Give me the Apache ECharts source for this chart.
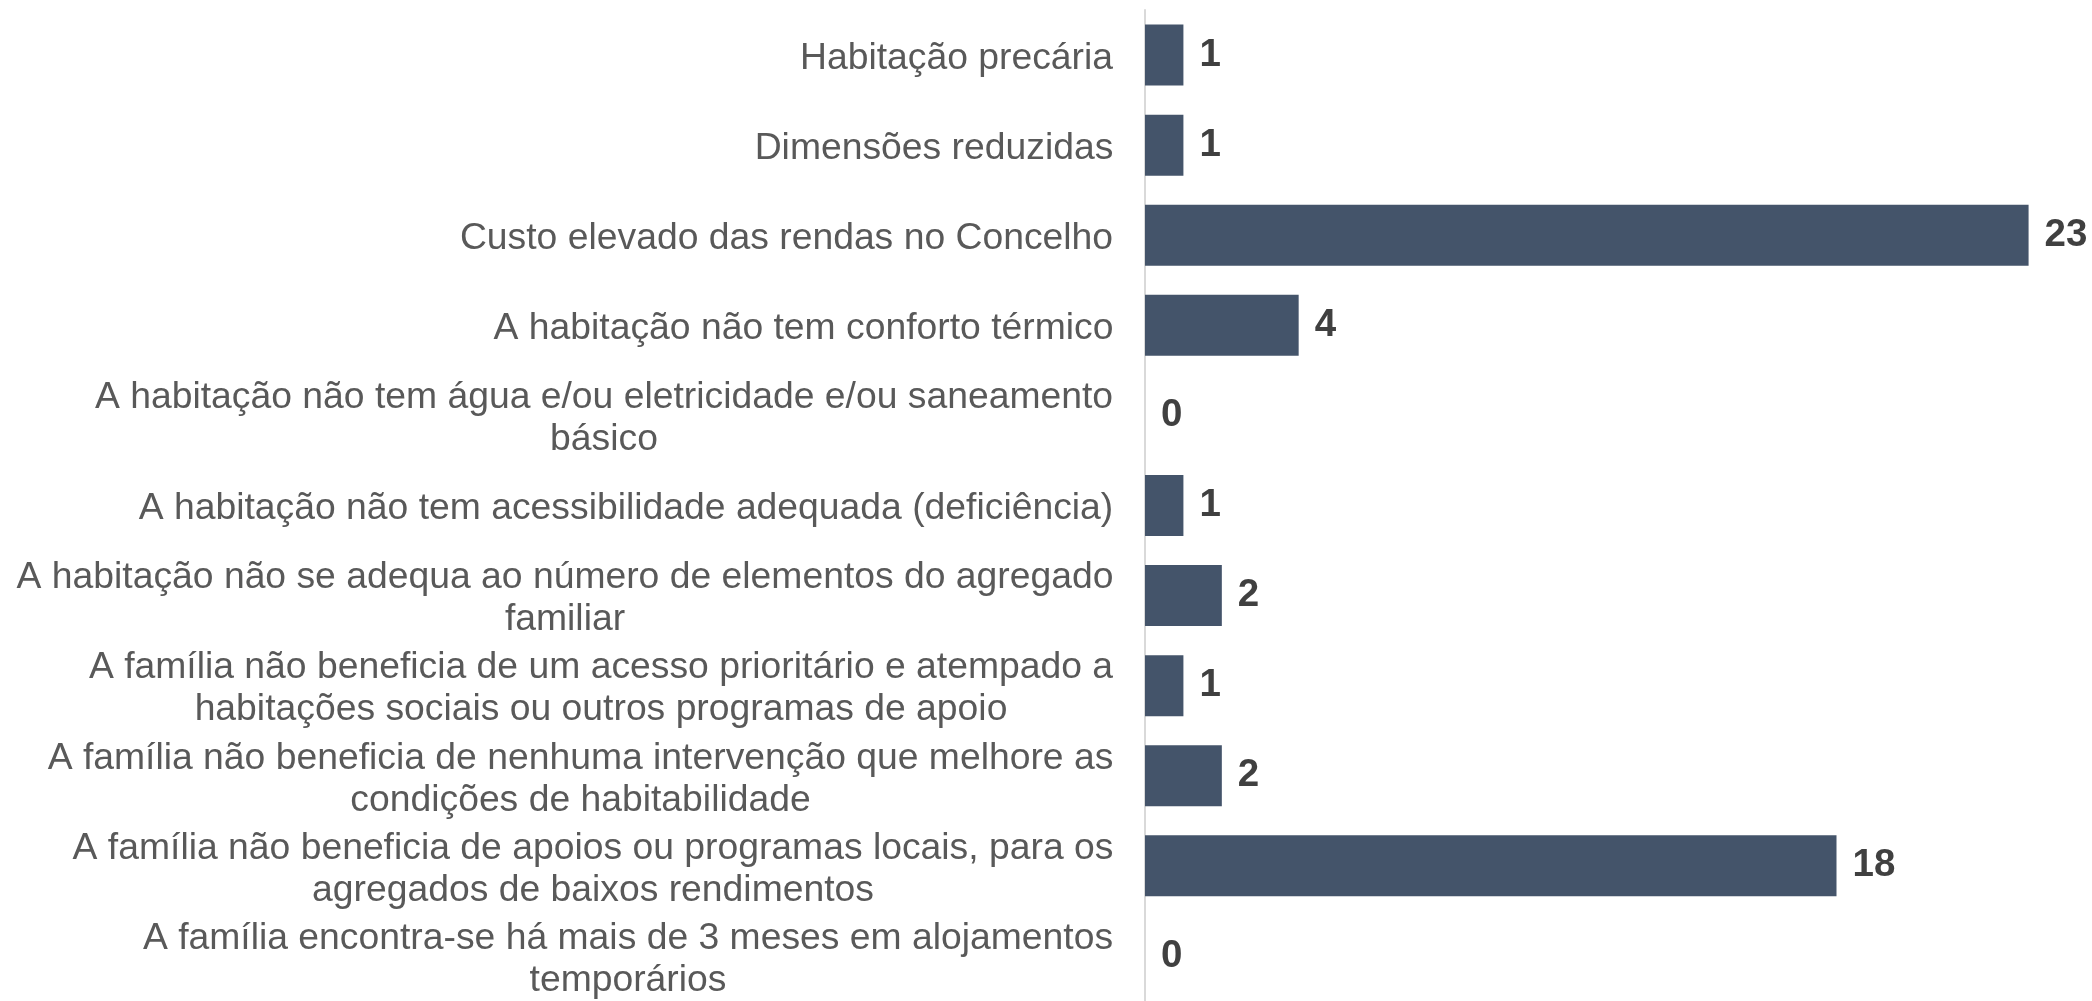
<!DOCTYPE html>
<html>
<head>
<meta charset="utf-8">
<script src="https://cdn.jsdelivr.net/npm/echarts@6/dist/echarts.min.js"></script>
<style>
  html, body { margin: 0; padding: 0; background: #fff; }
  #chart { width: 2092px; height: 1001px; }
</style>
</head>
<body>
<div id="chart"></div>
<script>
const categories = [
  'Habitação precária',
  'Dimensões reduzidas',
  'Custo elevado das rendas no Concelho',
  'A habitação não tem conforto térmico',
  'A habitação não tem água e/ou eletricidade e/ou saneamento\nbásico',
  'A habitação não tem acessibilidade adequada (deficiência)',
  'A habitação não se adequa ao número de elementos do agregado\nfamiliar',
  'A família não beneficia de um acesso prioritário e atempado a\nhabitações sociais ou outros programas de apoio',
  'A família não beneficia de nenhuma intervenção que melhore as\ncondições de habitabilidade',
  'A família não beneficia de apoios ou programas locais, para os\nagregados de baixos rendimentos',
  'A família encontra-se há mais de 3 meses em alojamentos\ntemporários'
];
const values = [1, 1, 23, 4, 0, 1, 2, 1, 2, 18, 0];

const FONT = '"Liberation Sans", Arial, sans-serif';
const LABEL_SIZE = 37.3;

// width of each label block, so wrapped lines can be centred inside it
const ctx = document.createElement('canvas').getContext('2d');
ctx.font = LABEL_SIZE + 'px ' + FONT;
const rich = {};
categories.forEach((c, i) => {
  const w = Math.max(...c.split('\n').map((l) => ctx.measureText(l).width));
  rich['c' + i] = { width: Math.ceil(w) + 1, align: 'center', fontSize: LABEL_SIZE, lineHeight: 42, color: '#595959', fontFamily: FONT };
});

const chart = echarts.init(document.getElementById('chart'));
chart.setOption({
  animation: false,
  backgroundColor: '#fff',
  grid: { left: 1145, top: 10, width: 922, height: 997 },
  xAxis: {
    type: 'value',
    min: 0,
    max: 24,
    show: false
  },
  yAxis: {
    type: 'category',
    inverse: true,
    data: categories,
    axisLine: { show: true, lineStyle: { color: '#d9d9d9', width: 2 } },
    axisTick: { show: false },
    axisLabel: {
      margin: 31,
      padding: [7, 0, 0, 0],
      fontFamily: FONT,
      fontSize: LABEL_SIZE,
      color: '#595959',
      formatter: (v) => {
        const i = categories.indexOf(v);
        return v.split('\n').map((l) => '{c' + i + '|' + l + '}').join('\n');
      },
      rich
    }
  },
  series: [
    {
      type: 'bar',
      data: values,
      barWidth: 61,
      itemStyle: { color: '#44546a' },
      label: {
        show: true,
        position: 'right',
        distance: 16,
        padding: [3, 0, 0, 0],
        fontFamily: FONT,
        fontSize: 38.5,
        fontWeight: 'bold',
        color: '#404040'
      }
    }
  ]
});
</script>
</body>
</html>
